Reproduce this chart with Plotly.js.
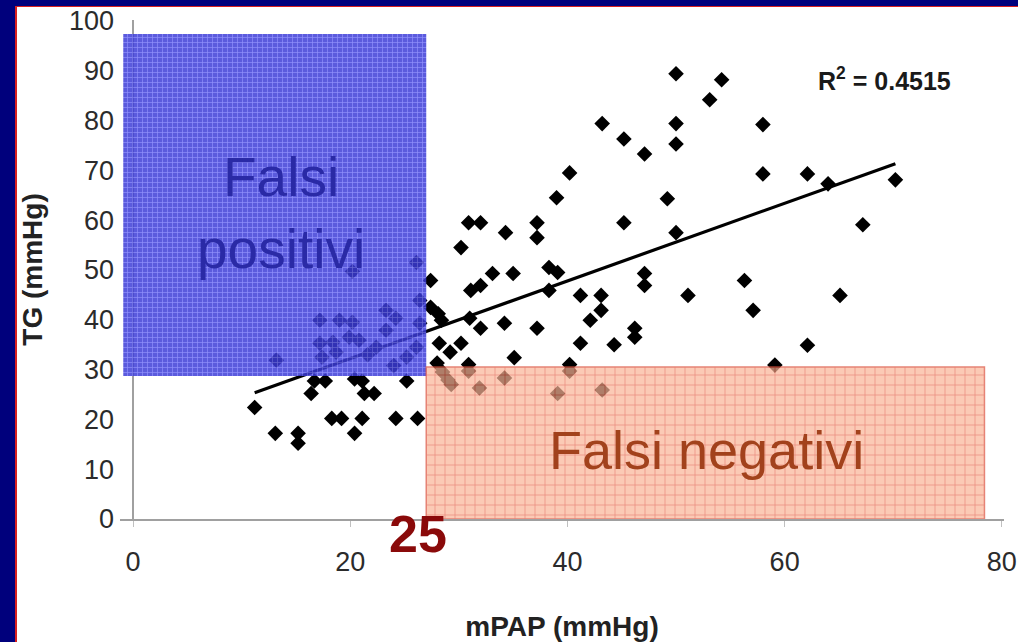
<!DOCTYPE html>
<html>
<head>
<meta charset="utf-8">
<script src="https://cdn.plot.ly/plotly-3.0.1.min.js"></script>
<style>
html,body{margin:0;padding:0;width:1018px;height:642px;overflow:hidden;background:#00007c;}
#edge{position:absolute;left:15px;top:6px;width:1003px;height:636px;background:#d82020;}
#chart{position:absolute;left:17px;top:0px;width:1001px;height:642px;background:#ffffff;}
#topbar{position:absolute;left:0;top:0;width:1018px;height:6px;background:#00007c;z-index:5;}
#topline{position:absolute;left:15px;top:6px;width:1003px;height:1px;background:#d82020;z-index:5;}
</style>
</head>
<body>
<div id="edge"></div>
<div id="chart"></div>
<div id="topbar"></div>
<div id="topline"></div>
<script>
// ---- data ----
const mpap = [
  11.2,13.1,15.2,15.2,16.4,16.7,17.7,18.3,19.2,20.4,21.1,21.3,22.2,20.4,21.1,24.2,26.2,25.2,
  17.2,19.0,20.2,23.3,24.2,17.2,18.4,19.9,20.8,22.4,23.3,25.2,26.1,13.2,17.4,18.7,26.4,26.4,26.1,20.2,21.6,24.0,
  27.4,27.4,28.1,28.4,28.2,29.2,30.2,28.0,30.9,30.2,30.9,32.0,34.3,37.2,37.2,31.1,32.0,33.1,35.0,38.3,39.1,38.3,
  31.0,32.0,34.2,37.2,35.1,40.2,41.2,41.2,42.1,43.1,43.1,44.3,46.2,46.2,47.1,47.1,45.2,50.0,51.1,56.3,57.1,59.1,
  62.1,65.1,67.2,62.1,64.0,70.2,58.0,58.0,50.0,54.2,53.1,43.2,50.0,45.2,50.0,47.1,40.2,39.0,49.2,
  28.5,29.0,29.3,30.9,31.9,34.2,39.1,40.2,43.2
];
const tg = [
  22.4,17.2,17.2,15.2,25.2,27.7,27.7,20.2,20.2,17.2,20.2,25.2,25.2,28.1,27.7,20.2,20.2,27.7,
  39.9,39.9,39.5,41.9,40.3,35.3,35.5,36.5,35.9,34.5,37.9,32.5,34.5,31.9,32.5,33.5,43.9,39.3,51.5,49.7,33.0,30.8,
  47.9,42.5,41.2,39.9,35.3,33.5,35.3,31.3,31.0,54.5,59.5,59.5,57.5,59.5,56.5,45.9,46.9,49.3,49.3,50.5,49.5,45.9,
  40.3,38.3,39.3,38.3,32.4,31.0,35.3,44.9,39.9,44.9,41.9,35.0,38.3,36.5,49.3,46.9,59.5,57.5,44.9,47.9,41.9,30.9,
  34.9,44.9,59.1,69.3,67.3,68.1,69.3,79.2,89.4,88.2,84.2,79.4,79.4,76.3,75.3,73.3,69.5,64.5,64.3,
  29.5,27.9,27.0,29.7,26.3,28.3,25.2,29.7,25.9
];
const trendSlope = 0.78;
const trendIntercept = 16.6;
const rSquaredLabel = "R<sup>2</sup> = 0.4515";
const xTickVals = [0, 20, 40, 60, 80];
const xTickText = ["0", "20", "40", "60", "80"];
const yTickVals = [0, 10, 20, 30, 40, 50, 60, 70, 80, 90, 100];
const yTickText = ["0", "10", "20", "30", "40", "50", "60", "70", "80", "90", "100"];
const falsePosX = [-0.9, 27.0];
const falsePosY = [28.7, 97.4];
const falseNegX = [27.0, 78.4];
const falseNegY = [0, 30.5];
const thresholdLabel = "25";
const thresholdLabelX = 26.2;

// ---- build ----
const FONT = "Liberation Sans, Arial, sans-serif";
function rectPath(xs, ys) {
  return { x: [xs[0], xs[1], xs[1], xs[0], xs[0]], y: [ys[0], ys[0], ys[1], ys[1], ys[0]] };
}
const xMin = Math.min(...mpap), xMax = Math.max(...mpap);

const points = {
  type: 'scatter', mode: 'markers', x: mpap, y: tg,
  marker: { symbol: 'diamond', size: 12, color: '#000000' },
  hoverinfo: 'skip', showlegend: false
};
const trend = {
  type: 'scatter', mode: 'lines',
  x: [xMin, xMax], y: [trendIntercept + trendSlope * xMin, trendIntercept + trendSlope * xMax],
  line: { color: '#000000', width: 3.2 }, hoverinfo: 'skip', showlegend: false
};
const fp = rectPath(falsePosX, falsePosY);
const blueRect = {
  type: 'scatter', mode: 'lines', x: fp.x, y: fp.y, fill: 'toself',
  fillcolor: 'rgb(60,60,215)',
  fillpattern: { shape: '+', bgcolor: 'rgb(60,60,215)', fgcolor: 'rgb(125,125,250)', size: 5, solidity: 0.25 },
  line: { width: 0, color: 'rgb(60,60,215)' },
  opacity: 0.84, hoverinfo: 'skip', showlegend: false
};
const fn = rectPath(falseNegX, falseNegY);
const salmonRect = {
  type: 'scatter', mode: 'lines', x: fn.x, y: fn.y, fill: 'toself',
  fillcolor: 'rgb(250,180,150)',
  fillpattern: { shape: '+', bgcolor: 'rgb(250,180,150)', fgcolor: 'rgb(225,90,70)', size: 10, solidity: 0.14 },
  line: { width: 1.5, color: 'rgb(220,80,60)' },
  opacity: 0.7, hoverinfo: 'skip', showlegend: false
};

const layout = {
  width: 1001, height: 642,
  margin: { l: 103, r: 14, t: 20, b: 123 },
  paper_bgcolor: '#ffffff', plot_bgcolor: '#ffffff',
  showlegend: false,
  font: { family: FONT, color: '#222222' },
  xaxis: {
    range: [-1.2, 80.2], tickvals: xTickVals, ticktext: xTickText,
    showgrid: false, showline: true, linecolor: '#a0a0a0', linewidth: 2,
    zeroline: true, zerolinecolor: '#a0a0a0', zerolinewidth: 2,
    ticks: 'outside', ticklen: 6, tickcolor: '#c0c0c0', tickwidth: 1,
    tickfont: { family: FONT, size: 27, color: '#2b2b2b' },
    ticklabelstandoff: 12, ticklabeloverflow: 'allow',
    title: { text: '<b>mPAP (mmHg)</b>', font: { family: FONT, size: 28, color: '#222222' }, standoff: 40 }
  },
  yaxis: {
    range: [0, 100.2], tickvals: yTickVals, ticktext: yTickText,
    showgrid: false, showline: false, zeroline: false,
    ticks: '', tickfont: { family: FONT, size: 27, color: '#2b2b2b' },
    ticklabelstandoff: 5, ticklabeloverflow: 'allow',
    title: { text: '<b>TG (mmHg)</b>', font: { family: FONT, size: 28, color: '#222222' }, standoff: 33 }
  },
  annotations: [
    { x: 13.6, y: 61.5, xref: 'x', yref: 'y', text: 'Falsi<br>positivi', showarrow: false, align: 'center',
      font: { family: FONT, size: 55, color: '#2a2aa6' } },
    { x: 52.8, y: 13.8, xref: 'x', yref: 'y', text: 'Falsi negativi', showarrow: false,
      font: { family: FONT, size: 54, color: '#a2421c' } },
    { x: thresholdLabelX, y: -0.092, xref: 'x', yref: 'paper', text: '<b>' + thresholdLabel + '</b>', showarrow: false,
      font: { family: FONT, size: 52, color: '#8a0a0a' } },
    { x: 69.2, y: 88.4, xref: 'x', yref: 'y', text: '<b>' + rSquaredLabel + '</b>', showarrow: false,
      font: { family: FONT, size: 25, color: '#1a1a1a' } }
  ]
};

Plotly.newPlot('chart', [points, trend, blueRect, salmonRect], layout, { staticPlot: true, displayModeBar: false });
</script>
</body>
</html>
